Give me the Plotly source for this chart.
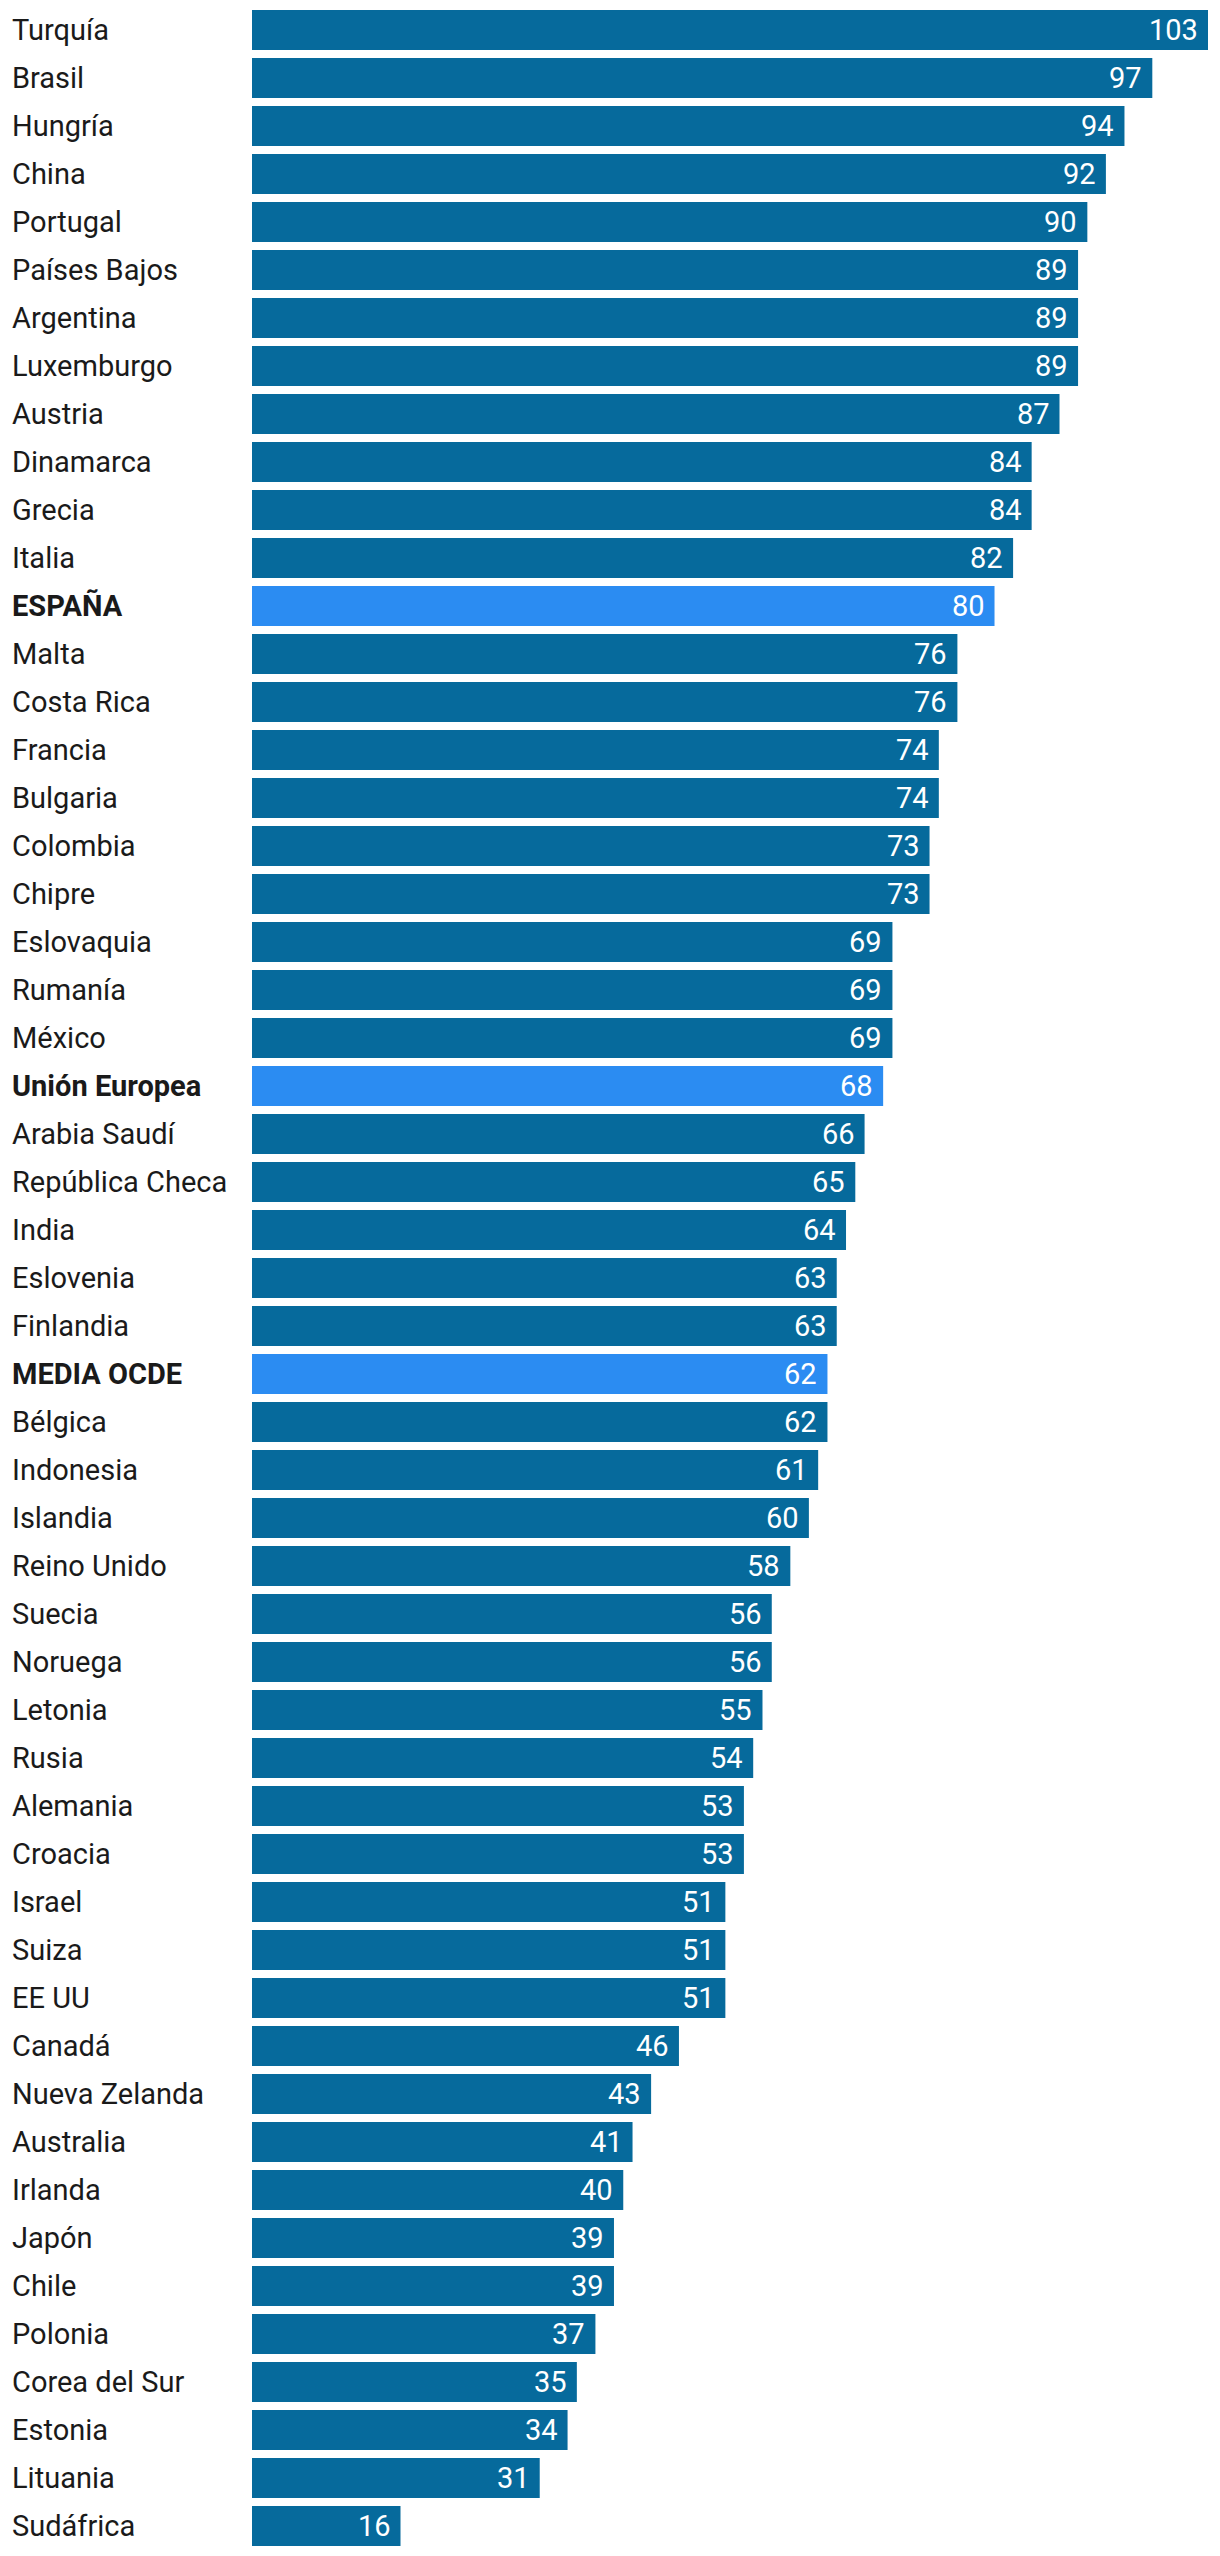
import plotly.graph_objects as go

countries = ["Turquía", "Brasil", "Hungría", "China", "Portugal", "Países Bajos", "Argentina",
             "Luxemburgo", "Austria", "Dinamarca", "Grecia", "Italia", "ESPAÑA", "Malta",
             "Costa Rica", "Francia", "Bulgaria", "Colombia", "Chipre", "Eslovaquia", "Rumanía",
             "México", "Unión Europea", "Arabia Saudí", "República Checa", "India", "Eslovenia",
             "Finlandia", "MEDIA OCDE", "Bélgica", "Indonesia", "Islandia", "Reino Unido",
             "Suecia", "Noruega", "Letonia", "Rusia", "Alemania", "Croacia", "Israel", "Suiza",
             "EE UU", "Canadá", "Nueva Zelanda", "Australia", "Irlanda", "Japón", "Chile",
             "Polonia", "Corea del Sur", "Estonia", "Lituania", "Sudáfrica"]
values = [103, 97, 94, 92, 90, 89, 89, 89, 87, 84, 84, 82, 80, 76, 76, 74, 74, 73, 73, 69, 69,
          69, 68, 66, 65, 64, 63, 63, 62, 62, 61, 60, 58, 56, 56, 55, 54, 53, 53, 51, 51, 51,
          46, 43, 41, 40, 39, 39, 37, 35, 34, 31, 16]
highlighted = ["ESPAÑA", "Unión Europea", "MEDIA OCDE"]

DARK = "#066a9c"
LIGHT = "#2b8cf2"
FONT = "Roboto, Liberation Sans, Arial, sans-serif"
SIZE = 29

colors = [LIGHT if c in highlighted else DARK for c in countries]

fig = go.Figure(go.Bar(
    x=values, y=countries, orientation="h",
    marker=dict(color=colors, line=dict(width=0)),
    hoverinfo="skip",
))

annotations = []
for c, v in zip(countries, values):
    bold = c in highlighted
    annotations.append(dict(
        x=0, y=c, xref="x", yref="y", text=f"<b>{c}</b>" if bold else c,
        xanchor="left", xshift=-242, showarrow=False,
        font=dict(family=FONT, size=SIZE, color="#1a1a1a"),
    ))
    annotations.append(dict(
        x=v, y=c, xref="x", yref="y", text=str(v),
        xanchor="right", xshift=-8, showarrow=False,
        font=dict(family=FONT, size=SIZE, color="white"),
    ))

fig.update_layout(
    width=1220, height=2556,
    margin=dict(l=252, r=12, t=6, b=6),
    paper_bgcolor="white", plot_bgcolor="white",
    bargap=1/6,
    showlegend=False,
    annotations=annotations,
    xaxis=dict(range=[0, 103], visible=False, fixedrange=True),
    yaxis=dict(autorange="reversed", showticklabels=False, showgrid=False,
               zeroline=False, fixedrange=True),
    font=dict(family=FONT),
)

fig.write_html("out.html", config={"displayModeBar": False},
               post_script="document.body.style.margin='0';document.body.style.overflow='hidden';")
